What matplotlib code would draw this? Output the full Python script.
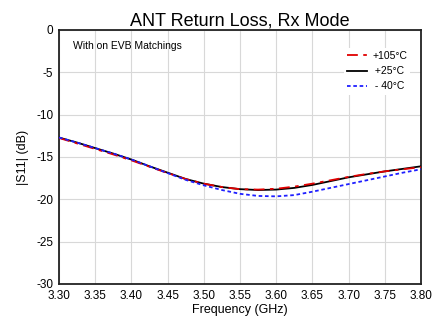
import matplotlib
matplotlib.use("Agg")
import matplotlib.pyplot as plt

freq = [3.30, 3.325, 3.35, 3.375, 3.40, 3.425, 3.45, 3.475, 3.50, 3.525, 3.55,
        3.575, 3.60, 3.625, 3.65, 3.675, 3.70, 3.725, 3.75, 3.775, 3.80]
s11_p105 = [-12.75, -13.4, -14.05, -14.7, -15.4, -16.15, -16.9, -17.6, -18.15, -18.55, -18.8,
            -18.85, -18.75, -18.5, -18.15, -17.75, -17.35, -17.0, -16.7, -16.45, -16.2]
s11_p25 = [-12.7, -13.3, -13.95, -14.6, -15.3, -16.1, -16.85, -17.6, -18.15, -18.55, -18.8,
           -18.9, -18.85, -18.65, -18.3, -17.85, -17.4, -17.05, -16.7, -16.4, -16.1]
s11_m40 = [-12.7, -13.3, -13.95, -14.6, -15.3, -16.1, -16.9, -17.7, -18.35, -18.9, -19.35,
           -19.6, -19.65, -19.5, -19.1, -18.65, -18.2, -17.75, -17.3, -16.85, -16.45]
labels = ["+105°C", " +25°C", " - 40°C"]
xticks = [3.30, 3.35, 3.40, 3.45, 3.50, 3.55, 3.60, 3.65, 3.70, 3.75, 3.80]
yticks = [0, -5, -10, -15, -20, -25, -30]

plt.rcParams['font.family'] = ['Liberation Sans', 'DejaVu Sans']

fig = plt.figure(figsize=(4.32, 3.25), dpi=100)
ax = fig.add_axes([0.1366, 0.1262, 0.8379, 0.7815])

ax.plot(freq, s11_p105, color='#e00000', lw=1.3, dashes=(6, 3, 2, 3), label=labels[0], zorder=4)
ax.plot(freq, s11_p25, color='black', lw=1.3, label=labels[1], zorder=3)
ax.plot(freq, s11_m40, color='#1f1fff', lw=1.3, dashes=(2, 1.5), label=labels[2], zorder=5)

ax.set_xlim(3.30, 3.80)
ax.set_ylim(-30, 0)
ax.set_xticks(xticks)
ax.set_xticklabels([f"{v:.2f}" for v in xticks])
ax.set_yticks(yticks)
ax.set_yticklabels([str(v) for v in yticks])
ax.tick_params(length=0, labelsize=8.5, pad=4)
ax.grid(True, color='#d8d8d8', lw=0.8)
ax.set_axisbelow(True)
for sp in ax.spines.values():
    sp.set_linewidth(1.3)
    sp.set_color('#222222')

ax.set_title("ANT Return Loss, Rx Mode", fontsize=13, pad=3)
ax.set_xlabel("Frequency (GHz)", fontsize=9, labelpad=2)
ax.set_ylabel("|S11| (dB)", fontsize=9, labelpad=5)
ax.text(0.04, 0.955, "With on EVB Matchings", transform=ax.transAxes, fontsize=7.5, va='top')

leg = ax.legend(loc='upper right', bbox_to_anchor=(0.985, 0.95), fontsize=7.5, frameon=True,
                facecolor='white', edgecolor='none', framealpha=1, handlelength=1.9,
                handletextpad=0.5, labelspacing=0.5, borderpad=0.3)
leg.get_frame().set_boxstyle('square', pad=0)

fig.savefig("out.png", dpi=100)
